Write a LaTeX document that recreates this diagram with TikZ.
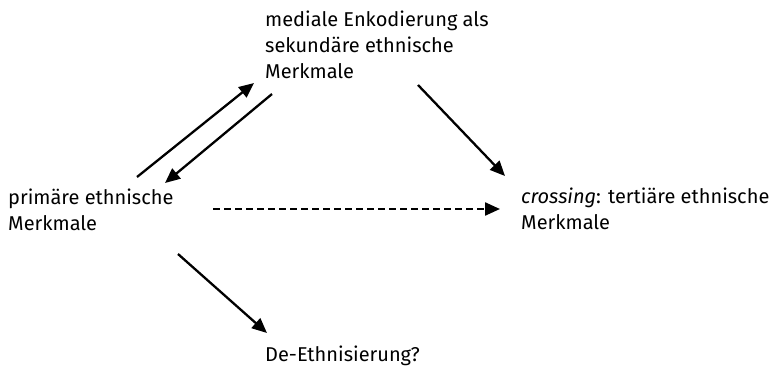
\documentclass[tikz,border=0pt]{standalone}
\usepackage{fontspec}
\setmainfont{Fira Sans}
\usetikzlibrary{arrows.meta}

\begin{document}
\begin{tikzpicture}[x=1pt, y=-1pt,
        txt/.style={anchor=north west, align=left, inner sep=0pt, font=\fontsize{20}{26}\selectfont},
        arr/.style={line width=2.3pt, -{Triangle[length=15pt,width=13pt]}},
        dasharr/.style={arr, dash pattern=on 7pt off 4pt}]
        \useasboundingbox (0,0) rectangle (777,368);

        % Nodes
        \node[txt] (prim) at (8, 189) {primäre ethnische\\Merkmale};
        \node[txt] (sek) at (265, 11) {mediale Enkodierung als\\sekundäre ethnische\\Merkmale};
        \node[txt] (tert) at (521, 188) {\textit{crossing}: tertiäre ethnische\\Merkmale};
        \node[txt] (deeth) at (265, 346) {De-Ethnisierung?};

        % Arrow ends
        \coordinate (p1) at (137, 177);
        \coordinate (s1) at (254, 83);
        \coordinate (s2) at (272, 94);
        \coordinate (p2) at (165, 183);
        \coordinate (s3) at (418, 85);
        \coordinate (t3) at (505, 176);
        \coordinate (p4) at (213, 209);
        \coordinate (t4) at (500, 209);
        \coordinate (p5) at (178, 254);
        \coordinate (d5) at (267, 333);

        % Edges
        \draw[arr] (p1) -- (s1);
        \draw[arr] (s2) -- (p2);
        \draw[arr] (s3) -- (t3);
        \draw[dasharr] (p4) -- (t4);
        \draw[arr] (p5) -- (d5);
\end{tikzpicture}
\end{document}
